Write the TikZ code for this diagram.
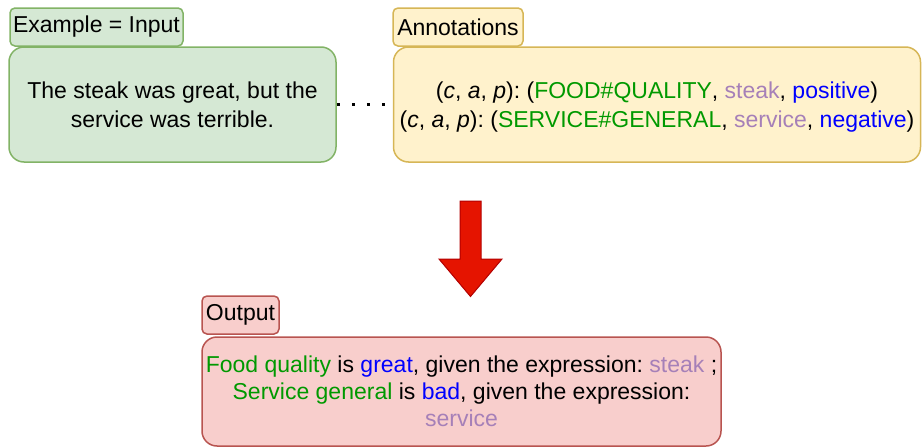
\documentclass[tikz,border=0pt]{standalone}
\usepackage{fontspec}
\setmainfont{Liberation Sans}
\frenchspacing
\definecolor{gfill}{HTML}{D5E8D4}
\definecolor{gline}{HTML}{82B366}
\definecolor{yfill}{HTML}{FFF2CC}
\definecolor{yline}{HTML}{D6B656}
\definecolor{rfill}{HTML}{F8CECC}
\definecolor{rline}{HTML}{B85450}
\definecolor{afill}{HTML}{E51400}
\definecolor{aline}{HTML}{B20000}
\definecolor{tgreen}{HTML}{009900}
\definecolor{tpurple}{HTML}{A680B8}
\definecolor{tblue}{HTML}{0000FF}
\newcommand{\cg}[1]{\textcolor{tgreen}{#1}}
\newcommand{\cpu}[1]{\textcolor{tpurple}{#1}}
\newcommand{\cbl}[1]{\textcolor{tblue}{#1}}
\newcommand{\captrip}{(\textit{c}, \textit{a}, \textit{p})}
\begin{document}
\begin{tikzpicture}[x=1pt,y=-1pt,
  every node/.style={font=\fontsize{23}{29}\selectfont\frenchspacing, inner sep=0pt, align=center},
  labelbox/.style={draw, line width=1.5pt, rounded corners=5pt, minimum height=38pt},
  mainbox/.style={draw, line width=1.5pt, rounded corners=15pt},
  greenst/.style={fill=gfill, draw=gline},
  yellowst/.style={fill=yfill, draw=yline},
  redst/.style={fill=rfill, draw=rline},
  dotline/.style={line width=3pt, dash pattern=on 3pt off 12pt},
  bigarrow/.style={fill=afill, draw=aline, line width=1pt, line join=miter}
]
\useasboundingbox (0,0) rectangle (922,447);

% Input
\node[labelbox, greenst, minimum width=173pt] (gl) at (96.5,27) {Example = Input};
\node[mainbox, greenst, minimum width=327pt, minimum height=115pt] (gm) at (172.5,104.5)
  {The steak was great, but the\\service was terrible.};

% Annotations
\node[labelbox, yellowst, minimum width=130pt] (yl) at (458,27) {Annotations};
\node[mainbox, yellowst, minimum width=527pt, minimum height=115pt] (ym) at (657,104.5)
  {\rule{0pt}{22.5pt}\captrip: (\cg{FOOD\#QUALITY}, \cpu{steak}, \cbl{positive})\\
   \captrip: (\cg{SERVICE\#GENERAL}, \cpu{service}, \cbl{negative})};

\draw[dotline] (gm.east) -- (ym.west);

% Arrow
\draw[bigarrow] (460,201) -- (481,201) -- (481,259) -- (502,259) -- (470.5,296.5)
  -- (439,259) -- (460,259) -- cycle;

% Output
\node[labelbox, redst, minimum width=77pt] (ol) at (240.5,315) {Output};
\node[mainbox, redst, minimum width=519pt, minimum height=109pt,
      font=\fontsize{23}{27}\selectfont\frenchspacing] (om) at (461.5,391.5)
  {\cg{Food quality} is \cbl{great}, given the expression: \cpu{steak} ;\\
   \cg{Service general} is \cbl{bad}, given the expression:\\
   \cpu{service}};
\end{tikzpicture}
\end{document}
